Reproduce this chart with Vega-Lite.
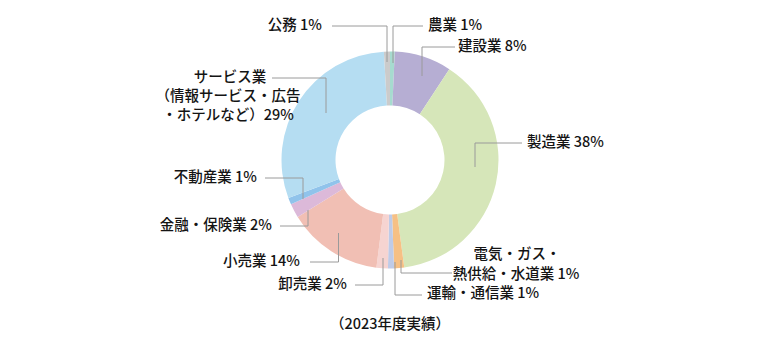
{
  "$schema": "https://vega.github.io/schema/vega-lite/v6.json",
  "width": 770,
  "height": 354,
  "padding": 0,
  "autosize": {"type": "none"},
  "background": "white",
  "config": {"view": {"stroke": null}, "text": {"font": "Noto Sans CJK JP", "fontSize": 14.5, "fontWeight": 500, "color": "#141414"}},
  "datasets": {
    "slices": [
      {"industry": "農業", "share": 0.7, "order": 1},
      {"industry": "建設業", "share": 8.5, "order": 2},
      {"industry": "製造業", "share": 38.7, "order": 3},
      {"industry": "電気・ガス・熱供給・水道業", "share": 1.5, "order": 4},
      {"industry": "運輸・通信業", "share": 0.9, "order": 5},
      {"industry": "卸売業", "share": 1.7, "order": 6},
      {"industry": "小売業", "share": 14.2, "order": 7},
      {"industry": "金融・保険業", "share": 2.1, "order": 8},
      {"industry": "不動産業", "share": 1.0, "order": 9},
      {"industry": "サービス業", "share": 29.8, "order": 10},
      {"industry": "公務", "share": 0.9, "order": 11}
    ],
    "leaders": [
      {"id": "公務", "p": 1, "x": -3, "y": 98}, {"id": "公務", "p": 2, "x": -3, "y": 134}, {"id": "公務", "p": 3, "x": -58, "y": 134},
      {"id": "農業", "p": 1, "x": 3, "y": 97}, {"id": "農業", "p": 2, "x": 3, "y": 134}, {"id": "農業", "p": 3, "x": 33, "y": 134},
      {"id": "建設業", "p": 1, "x": 32, "y": 84}, {"id": "建設業", "p": 2, "x": 32, "y": 113}, {"id": "建設業", "p": 3, "x": 65, "y": 113},
      {"id": "製造業", "p": 1, "x": 85, "y": -7}, {"id": "製造業", "p": 2, "x": 85, "y": 17}, {"id": "製造業", "p": 3, "x": 132, "y": 17},
      {"id": "電気", "p": 1, "x": 11, "y": -100}, {"id": "電気", "p": 2, "x": 11, "y": -113}, {"id": "電気", "p": 3, "x": 62, "y": -113},
      {"id": "運輸", "p": 1, "x": 5, "y": -102}, {"id": "運輸", "p": 2, "x": 5, "y": -135}, {"id": "運輸", "p": 3, "x": 32, "y": -135},
      {"id": "卸売業", "p": 1, "x": -7, "y": -98}, {"id": "卸売業", "p": 2, "x": -7, "y": -125}, {"id": "卸売業", "p": 3, "x": -35, "y": -125},
      {"id": "小売業", "p": 1, "x": -51.5, "y": -73}, {"id": "小売業", "p": 2, "x": -51.5, "y": -102}, {"id": "小売業", "p": 3, "x": -80, "y": -102},
      {"id": "金融", "p": 1, "x": -82, "y": -50}, {"id": "金融", "p": 2, "x": -82, "y": -66}, {"id": "金融", "p": 3, "x": -110, "y": -66},
      {"id": "不動産業", "p": 1, "x": -87, "y": -39}, {"id": "不動産業", "p": 2, "x": -87, "y": -18}, {"id": "不動産業", "p": 3, "x": -125, "y": -18},
      {"id": "サービス業", "p": 1, "x": -64, "y": 47}, {"id": "サービス業", "p": 2, "x": -64, "y": 82}, {"id": "サービス業", "p": 3, "x": -118, "y": 82}
    ],
    "labels": [
      {"text": "公務 1%", "side": "right", "x": -68, "y": 134},
      {"text": "農業 1%", "side": "left", "x": 38, "y": 134},
      {"text": "建設業 8%", "side": "left", "x": 68, "y": 113},
      {"text": "製造業 38%", "side": "left", "x": 137, "y": 17},
      {"text": "電気・ガス・", "side": "center", "x": 127, "y": -95},
      {"text": "熱供給・水道業 1%", "side": "center", "x": 126, "y": -115},
      {"text": "運輸・通信業 1%", "side": "left", "x": 37, "y": -134},
      {"text": "卸売業 2%", "side": "right", "x": -43, "y": -125},
      {"text": "小売業 14%", "side": "right", "x": -90, "y": -102},
      {"text": "金融・保険業 2%", "side": "right", "x": -118, "y": -66},
      {"text": "不動産業 1%", "side": "right", "x": -133, "y": -18},
      {"text": "サービス業", "side": "center", "x": -160, "y": 82},
      {"text": "（情報サービス・広告", "side": "center", "x": -162, "y": 63},
      {"text": "・ホテルなど）29%", "side": "center", "x": -162, "y": 44},
      {"text": "（2023年度実績）", "side": "center", "x": 0, "y": -165}
    ]
  },
  "encoding": {
    "x": {"type": "quantitative", "scale": {"domain": [-390, 380], "nice": false, "zero": false}, "axis": null},
    "y": {"type": "quantitative", "scale": {"domain": [-194, 160], "nice": false, "zero": false}, "axis": null}
  },
  "layer": [
    {
      "data": {"name": "slices"},
      "mark": {"type": "arc", "outerRadius": 108.5, "innerRadius": 54.5},
      "encoding": {
        "x": {"datum": 0, "type": "quantitative"},
        "y": {"datum": 0, "type": "quantitative"},
        "theta": {"field": "share", "type": "quantitative", "stack": true},
        "order": {"field": "order", "type": "quantitative"},
        "color": {
          "field": "industry", "type": "nominal", "legend": null,
          "scale": {
            "domain": ["農業", "建設業", "製造業", "電気・ガス・熱供給・水道業", "運輸・通信業", "卸売業", "小売業", "金融・保険業", "不動産業", "サービス業", "公務"],
            "range": ["#a6dbcf", "#b6aed3", "#d6e6b9", "#f6c085", "#bfcbe8", "#f6d4d1", "#f1bfb4", "#dcb9d9", "#90c3eb", "#b5ddf2", "#cbcbcb"]
          }
        }
      }
    },
    {
      "data": {"name": "leaders"},
      "mark": {"type": "line", "color": "#9a9a9a", "strokeWidth": 1},
      "encoding": {
        "x": {"field": "x", "type": "quantitative"},
        "y": {"field": "y", "type": "quantitative"},
        "detail": {"field": "id", "type": "nominal"},
        "order": {"field": "p", "type": "quantitative"}
      }
    },
    {
      "data": {"name": "labels"},
      "transform": [{"filter": "datum.side === 'left'"}],
      "mark": {"type": "text", "align": "left", "baseline": "middle"},
      "encoding": {"x": {"field": "x", "type": "quantitative"}, "y": {"field": "y", "type": "quantitative"}, "text": {"field": "text"}}
    },
    {
      "data": {"name": "labels"},
      "transform": [{"filter": "datum.side === 'right'"}],
      "mark": {"type": "text", "align": "right", "baseline": "middle"},
      "encoding": {"x": {"field": "x", "type": "quantitative"}, "y": {"field": "y", "type": "quantitative"}, "text": {"field": "text"}}
    },
    {
      "data": {"name": "labels"},
      "transform": [{"filter": "datum.side === 'center'"}],
      "mark": {"type": "text", "align": "center", "baseline": "middle"},
      "encoding": {"x": {"field": "x", "type": "quantitative"}, "y": {"field": "y", "type": "quantitative"}, "text": {"field": "text"}}
    }
  ]
}
